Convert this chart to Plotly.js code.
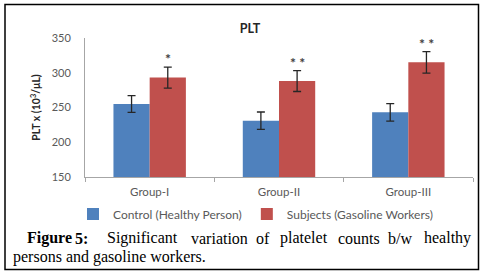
<!DOCTYPE html>
<html>
<head>
<meta charset="utf-8">
<script src="https://cdn.plot.ly/plotly-3.0.1.min.js"></script>
<style>
  html, body { margin: 0; padding: 0; background: #fff; }
  #chart { width: 483px; height: 275px; }
</style>
</head>
<body>
<div id="chart"></div>
<script>
// ---- data ----
var categories = ["Group-I", "Group-II", "Group-III"];
var controlValues = [255, 231, 243];
var controlErrors = [12, 12.5, 12.5];
var subjectValues = [293, 288, 315];
var subjectErrors = [15, 15, 15.5];
var significance = ["*", "* *", "* *"];
var seriesNames = ["Control (Healthy Person)", "Subjects (Gasoline Workers)"];
var yTicks = [150, 200, 250, 300, 350];

// ---- layout helpers (pixel -> paper) ----
var W = 483, H = 275, L = 85, R = 10, T = 38, B = 98;
function px(x) { return (x - L) / (W - L - R); }
function py(y) { return (H - B - y) / (H - T - B); }

var chartFont = "Lato, 'Open Sans', sans-serif";
var grey = "#595959";
var axisGrey = "#a6a6a6";

var errStyle = { type: "data", visible: true, color: "#262626", thickness: 1.3, width: 4 };

var traces = [
  {
    type: "bar", name: seriesNames[0], x: categories, y: controlValues,
    marker: { color: "#4f81bd" },
    error_y: Object.assign({ array: controlErrors }, errStyle),
    hoverinfo: "x+y"
  },
  {
    type: "bar", name: seriesNames[1], x: categories, y: subjectValues,
    marker: { color: "#c0504d" },
    error_y: Object.assign({ array: subjectErrors }, errStyle),
    hoverinfo: "x+y"
  }
];

var annotations = [];
// significance stars above the subject bars
for (var i = 0; i < categories.length; i++) {
  annotations.push({
    x: categories[i], y: subjectValues[i] + subjectErrors[i],
    xref: "x", yref: "y", xshift: 18, yshift: -2,
    xanchor: "center", yanchor: "bottom",
    text: "<b>" + significance[i] + "</b>", showarrow: false,
    font: { family: chartFont, size: 14, color: "#404040" }
  });
}

// caption (justified first line placed word by word)
var line1Words = ["<b>Figure</b>", "<b>5:</b>", "Significant", "variation", "of", "platelet", "counts", "b/w", "healthy"];
var line1X = [25.5, 72.5, 104.5, 188.5, 253.5, 277.5, 335.5, 385.5, 421.5];
var captionFont = { family: "'Liberation Serif', 'Times New Roman', serif", size: 16, color: "#000" };
for (var j = 0; j < line1Words.length; j++) {
  annotations.push({
    x: px(line1X[j]), y: py(238), xref: "paper", yref: "paper",
    xanchor: "left", yanchor: "middle", showarrow: false,
    text: line1Words[j], font: captionFont
  });
}
annotations.push({
  x: px(10.5), y: py(257), xref: "paper", yref: "paper",
  xanchor: "left", yanchor: "middle", showarrow: false,
  text: "persons and gasoline workers.", font: captionFont
});

var layout = {
  width: W, height: H,
  margin: { l: L, r: R, t: T, b: B, pad: 0 },
  paper_bgcolor: "#fff", plot_bgcolor: "#fff",
  font: { family: chartFont, size: 11, color: grey },
  title: {
    text: "<b>PLT</b>", x: 250 / W, xanchor: "center",
    y: 1 - 29 / H, yanchor: "middle",
    font: { family: chartFont, size: 12.5, color: "#262626" }
  },
  barmode: "group", bargap: 0.44, bargroupgap: 0,
  xaxis: {
    type: "category", showgrid: false, zeroline: false,
    showline: true, linecolor: axisGrey, linewidth: 1,
    ticks: "outside", tickson: "boundaries", ticklen: 4, tickcolor: axisGrey,
    ticklabelstandoff: 4,
    tickfont: { family: chartFont, size: 11.5, color: grey }
  },
  // labels pushed away from the axis by a long transparent tick
  yaxis: {
    range: [150, 350], tickvals: yTicks, showgrid: false, zeroline: false,
    showline: true, linecolor: axisGrey, linewidth: 1,
    ticks: "outside", ticklen: 11, tickcolor: "rgba(0,0,0,0)",
    tickfont: { family: chartFont, size: 11, color: grey },
    title: {
      text: "<b>PLT x (10<sup>3</sup>/μL)</b>", standoff: 8,
      font: { family: chartFont, size: 10.5, color: "#262626" }
    }
  },
  // overlay axis carrying only the short visible tick marks
  yaxis2: {
    matches: "y", overlaying: "y", anchor: "x", side: "left",
    tickvals: yTicks, showgrid: false, zeroline: false, showline: false,
    ticks: "outside", ticklen: 4, tickcolor: axisGrey, showticklabels: false
  },
  showlegend: true,
  legend: {
    orientation: "h", x: px(73), xanchor: "left", y: py(214), yanchor: "middle",
    font: { family: chartFont, size: 12, color: grey },
    itemwidth: 30, tracegroupgap: 0, bgcolor: "rgba(0,0,0,0)"
  },
  annotations: annotations,
  shapes: [{
    type: "rect", xref: "paper", yref: "paper",
    x0: px(5), x1: px(478.5), y0: py(4.5), y1: py(269.5),
    line: { color: "#000", width: 1.5 }, fillcolor: "rgba(0,0,0,0)", layer: "above"
  }]
};

Plotly.newPlot("chart", traces, layout, { displayModeBar: false, staticPlot: true });
</script>
</body>
</html>
